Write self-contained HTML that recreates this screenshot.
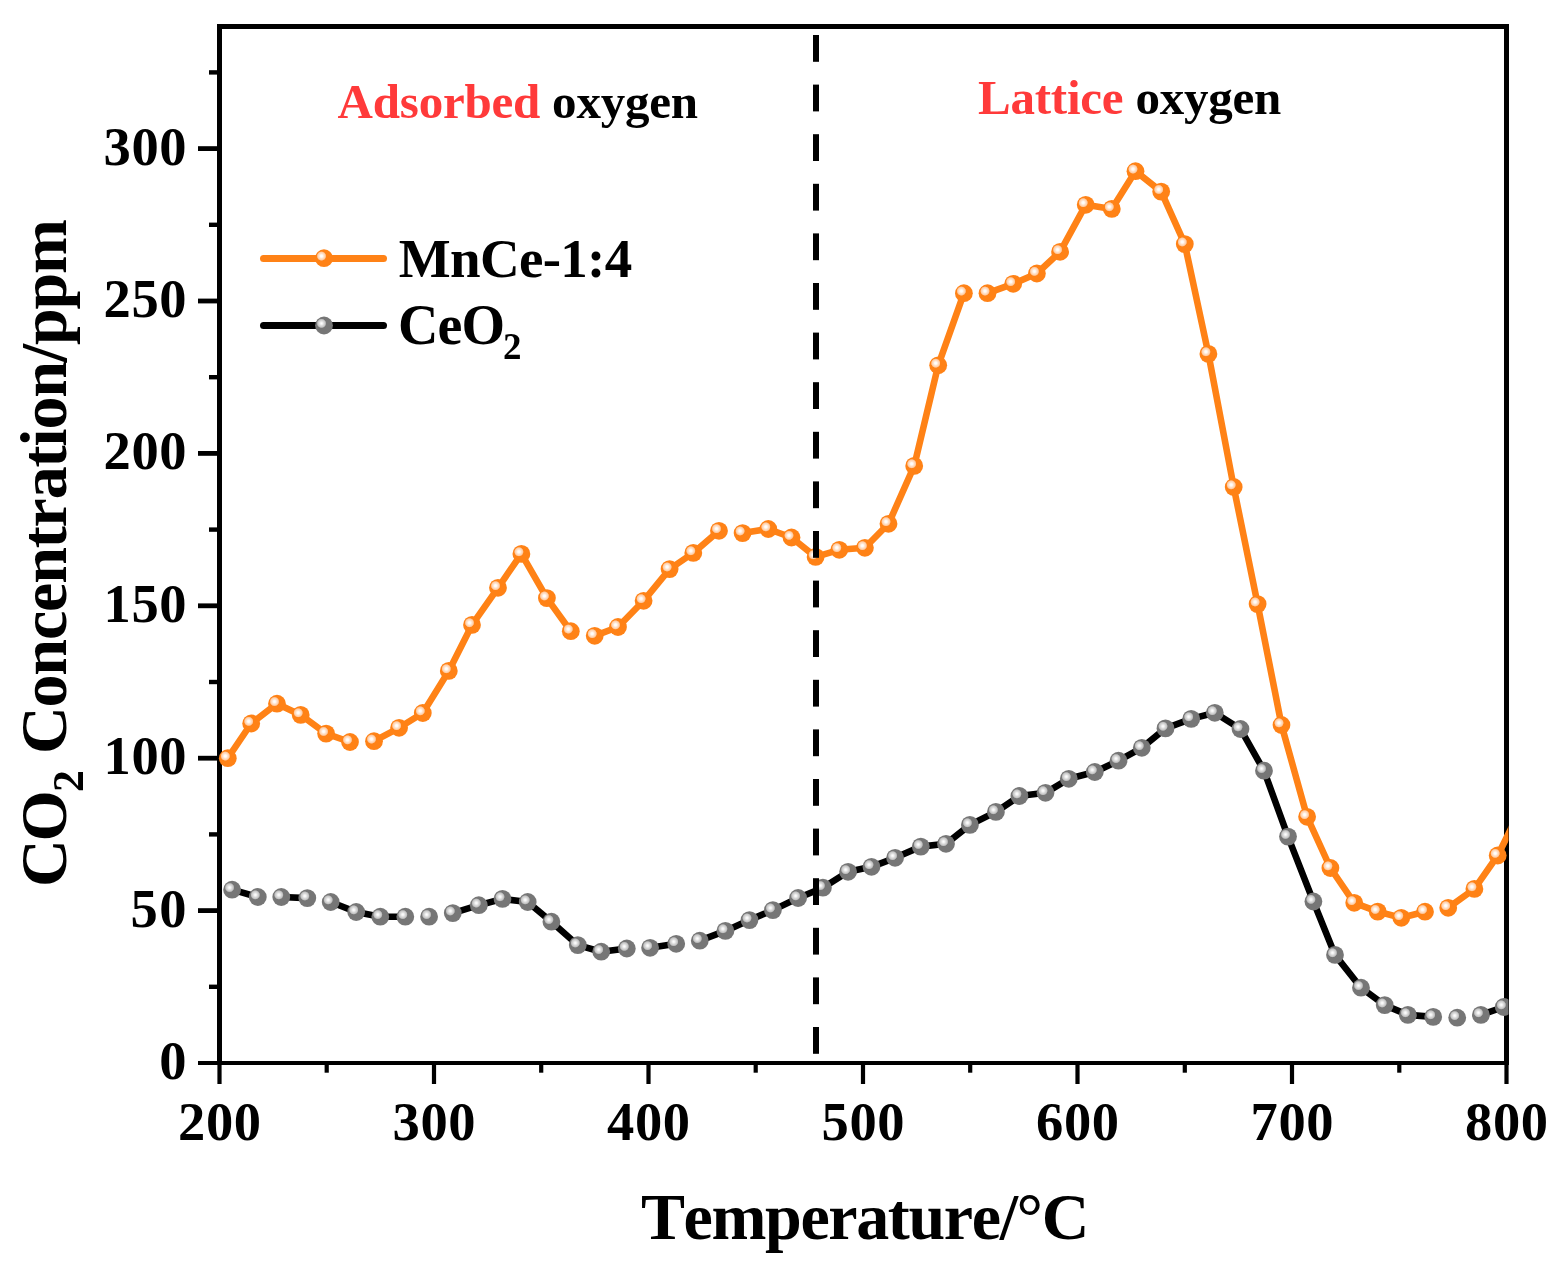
<!DOCTYPE html>
<html><head><meta charset="utf-8"><style>
html,body{margin:0;padding:0;background:#fff;}
svg{display:block;}
</style></head><body>
<svg width="1566" height="1268" viewBox="0 0 1566 1268" style="font-kerning:none">
<rect width="1566" height="1268" fill="#fff"/>
<defs>
<radialGradient id="go" cx="0.36" cy="0.38" r="0.27" gradientUnits="objectBoundingBox">
<stop offset="0" stop-color="#ffffff"/><stop offset="0.25" stop-color="#fffaf5"/><stop offset="0.5" stop-color="#ffe2cc"/><stop offset="0.78" stop-color="#ffcfa8"/><stop offset="0.92" stop-color="#ffa860"/><stop offset="1" stop-color="#ff8216"/></radialGradient>
<radialGradient id="gg" cx="0.36" cy="0.38" r="0.27" gradientUnits="objectBoundingBox">
<stop offset="0" stop-color="#ffffff"/><stop offset="0.25" stop-color="#f2f2f2"/><stop offset="0.5" stop-color="#dadada"/><stop offset="0.78" stop-color="#c4c4c4"/><stop offset="0.92" stop-color="#9c9c9c"/><stop offset="1" stop-color="#767676"/></radialGradient>
<clipPath id="cp"><rect x="217" y="24" width="1291.5" height="1041"/></clipPath>
</defs>
<g fill="#000">
<rect x="217" y="24" width="5" height="1041"/>
<rect x="1504" y="24" width="5" height="1041"/>
<rect x="217" y="24" width="1292" height="5"/>
<rect x="198" y="1061" width="1311" height="4"/>
<rect x="209" y="984.6" width="9" height="4.4"/>
<rect x="198" y="908.2" width="20" height="4.8"/>
<rect x="209" y="832.2" width="9" height="4.4"/>
<rect x="198" y="755.8" width="20" height="4.8"/>
<rect x="209" y="679.8" width="9" height="4.4"/>
<rect x="198" y="603.4" width="20" height="4.8"/>
<rect x="209" y="527.4" width="9" height="4.4"/>
<rect x="198" y="451.0" width="20" height="4.8"/>
<rect x="209" y="375.0" width="9" height="4.4"/>
<rect x="198" y="298.6" width="20" height="4.8"/>
<rect x="209" y="222.6" width="9" height="4.4"/>
<rect x="198" y="146.2" width="20" height="4.8"/>
<rect x="209" y="70.2" width="9" height="4.4"/>
<rect x="217.4" y="1062" width="4.2" height="22"/>
<rect x="324.6" y="1062" width="4.2" height="10.7"/>
<rect x="431.9" y="1062" width="4.2" height="22"/>
<rect x="539.1" y="1062" width="4.2" height="10.7"/>
<rect x="646.4" y="1062" width="4.2" height="22"/>
<rect x="753.6" y="1062" width="4.2" height="10.7"/>
<rect x="860.9" y="1062" width="4.2" height="22"/>
<rect x="968.1" y="1062" width="4.2" height="10.7"/>
<rect x="1075.4" y="1062" width="4.2" height="22"/>
<rect x="1182.7" y="1062" width="4.2" height="10.7"/>
<rect x="1289.9" y="1062" width="4.2" height="22"/>
<rect x="1397.2" y="1062" width="4.2" height="10.7"/>
<rect x="1504.4" y="1062" width="4.2" height="22"/>
</g>
<g clip-path="url(#cp)">
<path d="M227.8 758.2 L251.2 723.5 L277.0 703.7 L300.7 714.9 L326.1 733.6 L350.0 742.0 M374.0 741.2 L399.1 727.8 L422.8 713.0 L448.8 670.9 L472.0 624.9 L498.0 587.8 L521.4 553.9 L546.9 598.1 L570.8 631.2 M594.7 635.8 L618.0 627.0 L643.6 600.8 L669.6 569.1 L693.3 552.9 L719.0 530.8 M742.6 533.1 L768.3 529.0 L791.5 537.5 L815.6 556.9 L839.3 549.8 L864.9 547.8 L888.5 523.8 L914.2 465.9 L938.2 365.3 L963.9 293.2 M987.5 293.2 L1013.2 283.8 L1036.9 273.5 L1060.1 251.8 L1085.7 204.8 L1111.8 208.9 L1135.5 171.2 L1161.2 191.6 L1184.8 244.1 L1208.4 353.9 L1233.7 487.0 L1257.6 604.1 L1281.5 725.0 L1307.1 816.8 L1330.4 868.0 L1354.2 902.8 L1377.7 911.6 L1401.3 917.8 L1425.0 911.7 M1448.2 907.8 L1474.4 888.9 L1497.7 855.5 L1521.0 808.5" fill="none" stroke="#ff8216" stroke-width="6.6" stroke-linejoin="round" stroke-linecap="butt"/>
<circle cx="227.8" cy="758.2" r="8.9" fill="url(#go)"/>
<circle cx="251.2" cy="723.5" r="8.9" fill="url(#go)"/>
<circle cx="277.0" cy="703.7" r="8.9" fill="url(#go)"/>
<circle cx="300.7" cy="714.9" r="8.9" fill="url(#go)"/>
<circle cx="326.1" cy="733.6" r="8.9" fill="url(#go)"/>
<circle cx="350.0" cy="742.0" r="8.9" fill="url(#go)"/>
<circle cx="374.0" cy="741.2" r="8.9" fill="url(#go)"/>
<circle cx="399.1" cy="727.8" r="8.9" fill="url(#go)"/>
<circle cx="422.8" cy="713.0" r="8.9" fill="url(#go)"/>
<circle cx="448.8" cy="670.9" r="8.9" fill="url(#go)"/>
<circle cx="472.0" cy="624.9" r="8.9" fill="url(#go)"/>
<circle cx="498.0" cy="587.8" r="8.9" fill="url(#go)"/>
<circle cx="521.4" cy="553.9" r="8.9" fill="url(#go)"/>
<circle cx="546.9" cy="598.1" r="8.9" fill="url(#go)"/>
<circle cx="570.8" cy="631.2" r="8.9" fill="url(#go)"/>
<circle cx="594.7" cy="635.8" r="8.9" fill="url(#go)"/>
<circle cx="618.0" cy="627.0" r="8.9" fill="url(#go)"/>
<circle cx="643.6" cy="600.8" r="8.9" fill="url(#go)"/>
<circle cx="669.6" cy="569.1" r="8.9" fill="url(#go)"/>
<circle cx="693.3" cy="552.9" r="8.9" fill="url(#go)"/>
<circle cx="719.0" cy="530.8" r="8.9" fill="url(#go)"/>
<circle cx="742.6" cy="533.1" r="8.9" fill="url(#go)"/>
<circle cx="768.3" cy="529.0" r="8.9" fill="url(#go)"/>
<circle cx="791.5" cy="537.5" r="8.9" fill="url(#go)"/>
<circle cx="815.6" cy="556.9" r="8.9" fill="url(#go)"/>
<circle cx="839.3" cy="549.8" r="8.9" fill="url(#go)"/>
<circle cx="864.9" cy="547.8" r="8.9" fill="url(#go)"/>
<circle cx="888.5" cy="523.8" r="8.9" fill="url(#go)"/>
<circle cx="914.2" cy="465.9" r="8.9" fill="url(#go)"/>
<circle cx="938.2" cy="365.3" r="8.9" fill="url(#go)"/>
<circle cx="963.9" cy="293.2" r="8.9" fill="url(#go)"/>
<circle cx="987.5" cy="293.2" r="8.9" fill="url(#go)"/>
<circle cx="1013.2" cy="283.8" r="8.9" fill="url(#go)"/>
<circle cx="1036.9" cy="273.5" r="8.9" fill="url(#go)"/>
<circle cx="1060.1" cy="251.8" r="8.9" fill="url(#go)"/>
<circle cx="1085.7" cy="204.8" r="8.9" fill="url(#go)"/>
<circle cx="1111.8" cy="208.9" r="8.9" fill="url(#go)"/>
<circle cx="1135.5" cy="171.2" r="8.9" fill="url(#go)"/>
<circle cx="1161.2" cy="191.6" r="8.9" fill="url(#go)"/>
<circle cx="1184.8" cy="244.1" r="8.9" fill="url(#go)"/>
<circle cx="1208.4" cy="353.9" r="8.9" fill="url(#go)"/>
<circle cx="1233.7" cy="487.0" r="8.9" fill="url(#go)"/>
<circle cx="1257.6" cy="604.1" r="8.9" fill="url(#go)"/>
<circle cx="1281.5" cy="725.0" r="8.9" fill="url(#go)"/>
<circle cx="1307.1" cy="816.8" r="8.9" fill="url(#go)"/>
<circle cx="1330.4" cy="868.0" r="8.9" fill="url(#go)"/>
<circle cx="1354.2" cy="902.8" r="8.9" fill="url(#go)"/>
<circle cx="1377.7" cy="911.6" r="8.9" fill="url(#go)"/>
<circle cx="1401.3" cy="917.8" r="8.9" fill="url(#go)"/>
<circle cx="1425.0" cy="911.7" r="8.9" fill="url(#go)"/>
<circle cx="1448.2" cy="907.8" r="8.9" fill="url(#go)"/>
<circle cx="1474.4" cy="888.9" r="8.9" fill="url(#go)"/>
<circle cx="1497.7" cy="855.5" r="8.9" fill="url(#go)"/>
<path d="M232.1 889.7 L257.8 897.0 M281.3 897.0 L307.3 898.1 M330.7 902.0 L356.2 912.0 L380.3 916.7 L405.3 916.7 M429.1 916.7 M452.8 913.1 L478.8 905.2 L502.5 898.9 L527.7 902.0 L551.4 921.7 L577.8 945.1 L601.2 951.7 L626.8 948.5 M650.1 947.8 L676.2 943.8 M699.8 940.7 L725.4 930.9 L749.5 920.1 L772.9 910.1 L798.1 898.0 L822.9 887.7 L848.1 871.8 L871.5 866.8 L895.1 857.8 L920.8 846.6 L946.0 843.8 L969.9 824.9 L995.9 811.9 L1019.4 796.0 L1045.5 792.8 L1068.8 778.8 L1094.8 772.0 L1118.5 760.7 L1141.8 747.8 L1165.5 728.4 L1191.2 718.9 L1214.8 712.8 L1240.5 729.0 L1264.0 770.7 L1288.0 836.6 L1313.4 901.5 L1335.0 954.9 L1361.0 987.7 L1384.7 1005.1 L1407.9 1014.9 L1433.2 1016.9 M1457.2 1017.7 M1480.9 1014.9 L1503.8 1007.0 L1527.0 999.0" fill="none" stroke="#000" stroke-width="6.6" stroke-linejoin="round" stroke-linecap="butt"/>
<circle cx="232.1" cy="889.7" r="8.9" fill="url(#gg)"/>
<circle cx="257.8" cy="897.0" r="8.9" fill="url(#gg)"/>
<circle cx="281.3" cy="897.0" r="8.9" fill="url(#gg)"/>
<circle cx="307.3" cy="898.1" r="8.9" fill="url(#gg)"/>
<circle cx="330.7" cy="902.0" r="8.9" fill="url(#gg)"/>
<circle cx="356.2" cy="912.0" r="8.9" fill="url(#gg)"/>
<circle cx="380.3" cy="916.7" r="8.9" fill="url(#gg)"/>
<circle cx="405.3" cy="916.7" r="8.9" fill="url(#gg)"/>
<circle cx="429.1" cy="916.7" r="8.9" fill="url(#gg)"/>
<circle cx="452.8" cy="913.1" r="8.9" fill="url(#gg)"/>
<circle cx="478.8" cy="905.2" r="8.9" fill="url(#gg)"/>
<circle cx="502.5" cy="898.9" r="8.9" fill="url(#gg)"/>
<circle cx="527.7" cy="902.0" r="8.9" fill="url(#gg)"/>
<circle cx="551.4" cy="921.7" r="8.9" fill="url(#gg)"/>
<circle cx="577.8" cy="945.1" r="8.9" fill="url(#gg)"/>
<circle cx="601.2" cy="951.7" r="8.9" fill="url(#gg)"/>
<circle cx="626.8" cy="948.5" r="8.9" fill="url(#gg)"/>
<circle cx="650.1" cy="947.8" r="8.9" fill="url(#gg)"/>
<circle cx="676.2" cy="943.8" r="8.9" fill="url(#gg)"/>
<circle cx="699.8" cy="940.7" r="8.9" fill="url(#gg)"/>
<circle cx="725.4" cy="930.9" r="8.9" fill="url(#gg)"/>
<circle cx="749.5" cy="920.1" r="8.9" fill="url(#gg)"/>
<circle cx="772.9" cy="910.1" r="8.9" fill="url(#gg)"/>
<circle cx="798.1" cy="898.0" r="8.9" fill="url(#gg)"/>
<circle cx="822.9" cy="887.7" r="8.9" fill="url(#gg)"/>
<circle cx="848.1" cy="871.8" r="8.9" fill="url(#gg)"/>
<circle cx="871.5" cy="866.8" r="8.9" fill="url(#gg)"/>
<circle cx="895.1" cy="857.8" r="8.9" fill="url(#gg)"/>
<circle cx="920.8" cy="846.6" r="8.9" fill="url(#gg)"/>
<circle cx="946.0" cy="843.8" r="8.9" fill="url(#gg)"/>
<circle cx="969.9" cy="824.9" r="8.9" fill="url(#gg)"/>
<circle cx="995.9" cy="811.9" r="8.9" fill="url(#gg)"/>
<circle cx="1019.4" cy="796.0" r="8.9" fill="url(#gg)"/>
<circle cx="1045.5" cy="792.8" r="8.9" fill="url(#gg)"/>
<circle cx="1068.8" cy="778.8" r="8.9" fill="url(#gg)"/>
<circle cx="1094.8" cy="772.0" r="8.9" fill="url(#gg)"/>
<circle cx="1118.5" cy="760.7" r="8.9" fill="url(#gg)"/>
<circle cx="1141.8" cy="747.8" r="8.9" fill="url(#gg)"/>
<circle cx="1165.5" cy="728.4" r="8.9" fill="url(#gg)"/>
<circle cx="1191.2" cy="718.9" r="8.9" fill="url(#gg)"/>
<circle cx="1214.8" cy="712.8" r="8.9" fill="url(#gg)"/>
<circle cx="1240.5" cy="729.0" r="8.9" fill="url(#gg)"/>
<circle cx="1264.0" cy="770.7" r="8.9" fill="url(#gg)"/>
<circle cx="1288.0" cy="836.6" r="8.9" fill="url(#gg)"/>
<circle cx="1313.4" cy="901.5" r="8.9" fill="url(#gg)"/>
<circle cx="1335.0" cy="954.9" r="8.9" fill="url(#gg)"/>
<circle cx="1361.0" cy="987.7" r="8.9" fill="url(#gg)"/>
<circle cx="1384.7" cy="1005.1" r="8.9" fill="url(#gg)"/>
<circle cx="1407.9" cy="1014.9" r="8.9" fill="url(#gg)"/>
<circle cx="1433.2" cy="1016.9" r="8.9" fill="url(#gg)"/>
<circle cx="1457.2" cy="1017.7" r="8.9" fill="url(#gg)"/>
<circle cx="1480.9" cy="1014.9" r="8.9" fill="url(#gg)"/>
<circle cx="1503.8" cy="1007.0" r="8.9" fill="url(#gg)"/>
</g>
<g fill="#000">
<rect x="813" y="35.0" width="6" height="26.8"/>
<rect x="813" y="84.6" width="6" height="26.8"/>
<rect x="813" y="134.2" width="6" height="26.8"/>
<rect x="813" y="183.8" width="6" height="26.8"/>
<rect x="813" y="233.4" width="6" height="26.8"/>
<rect x="813" y="283.0" width="6" height="26.8"/>
<rect x="813" y="332.6" width="6" height="26.8"/>
<rect x="813" y="382.2" width="6" height="26.8"/>
<rect x="813" y="431.8" width="6" height="26.8"/>
<rect x="813" y="481.4" width="6" height="26.8"/>
<rect x="813" y="531.0" width="6" height="26.8"/>
<rect x="813" y="580.6" width="6" height="26.8"/>
<rect x="813" y="630.2" width="6" height="26.8"/>
<rect x="813" y="679.8" width="6" height="26.8"/>
<rect x="813" y="729.4" width="6" height="26.8"/>
<rect x="813" y="779.0" width="6" height="26.8"/>
<rect x="813" y="828.6" width="6" height="26.8"/>
<rect x="813" y="878.2" width="6" height="26.8"/>
<rect x="813" y="927.8" width="6" height="26.8"/>
<rect x="813" y="977.4" width="6" height="26.8"/>
<rect x="813" y="1027.0" width="6" height="26.8"/>
</g>
<path d="M263.5 258.4 L383.5 258.4" stroke="#ff8216" stroke-width="7" stroke-linecap="round"/>
<circle cx="324" cy="258.2" r="8.9" fill="url(#go)"/>
<path d="M263.5 325.5 L383.5 325.5" stroke="#000" stroke-width="7" stroke-linecap="round"/>
<circle cx="324" cy="325.5" r="8.9" fill="url(#gg)"/>
<text x="186.5" y="1079.0" text-anchor="end" font-size="54.5" font-family="'Liberation Serif', serif" font-weight="bold">0</text>
<text x="186.5" y="926.6" text-anchor="end" font-size="54.5" textLength="56.0" lengthAdjust="spacing" font-family="'Liberation Serif', serif" font-weight="bold">50</text>
<text x="186.5" y="774.2" text-anchor="end" font-size="54.5" textLength="83.0" lengthAdjust="spacing" font-family="'Liberation Serif', serif" font-weight="bold">100</text>
<text x="186.5" y="621.8" text-anchor="end" font-size="54.5" textLength="83.0" lengthAdjust="spacing" font-family="'Liberation Serif', serif" font-weight="bold">150</text>
<text x="186.5" y="469.4" text-anchor="end" font-size="54.5" textLength="83.0" lengthAdjust="spacing" font-family="'Liberation Serif', serif" font-weight="bold">200</text>
<text x="186.5" y="317.0" text-anchor="end" font-size="54.5" textLength="83.0" lengthAdjust="spacing" font-family="'Liberation Serif', serif" font-weight="bold">250</text>
<text x="186.5" y="164.6" text-anchor="end" font-size="54.5" textLength="83.0" lengthAdjust="spacing" font-family="'Liberation Serif', serif" font-weight="bold">300</text>
<text x="219.5" y="1139.8" text-anchor="middle" font-size="54.5" textLength="83.0" lengthAdjust="spacing" font-family="'Liberation Serif', serif" font-weight="bold">200</text>
<text x="434.0" y="1139.8" text-anchor="middle" font-size="54.5" textLength="83.0" lengthAdjust="spacing" font-family="'Liberation Serif', serif" font-weight="bold">300</text>
<text x="648.5" y="1139.8" text-anchor="middle" font-size="54.5" textLength="83.0" lengthAdjust="spacing" font-family="'Liberation Serif', serif" font-weight="bold">400</text>
<text x="863.0" y="1139.8" text-anchor="middle" font-size="54.5" textLength="83.0" lengthAdjust="spacing" font-family="'Liberation Serif', serif" font-weight="bold">500</text>
<text x="1077.5" y="1139.8" text-anchor="middle" font-size="54.5" textLength="83.0" lengthAdjust="spacing" font-family="'Liberation Serif', serif" font-weight="bold">600</text>
<text x="1292.0" y="1139.8" text-anchor="middle" font-size="54.5" textLength="83.0" lengthAdjust="spacing" font-family="'Liberation Serif', serif" font-weight="bold">700</text>
<text x="1506.5" y="1139.8" text-anchor="middle" font-size="54.5" textLength="83.0" lengthAdjust="spacing" font-family="'Liberation Serif', serif" font-weight="bold">800</text>
<text x="337.6" y="117.9" font-size="49.0" textLength="360.4" lengthAdjust="spacing" font-family="'Liberation Serif', serif" font-weight="bold"><tspan fill="#ff3a3a">Adsorbed</tspan> oxygen</text>
<text x="978.0" y="113.8" font-size="49.0" textLength="303.3" lengthAdjust="spacing" font-family="'Liberation Serif', serif" font-weight="bold"><tspan fill="#ff3a3a">Lattice</tspan> oxygen</text>
<text x="398.8" y="277.0" font-size="55.0" textLength="233.4" lengthAdjust="spacing" font-family="'Liberation Serif', serif" font-weight="bold">MnCe-1:4</text>
<text x="398.0" y="343.6" font-size="56.0" textLength="107.1" lengthAdjust="spacing" font-family="'Liberation Serif', serif" font-weight="bold">CeO</text>
<text x="503.0" y="358.5" font-size="37.0" font-family="'Liberation Serif', serif" font-weight="bold">2</text>
<text x="640.9" y="1239.0" font-size="66.0" textLength="448.4" lengthAdjust="spacing" font-family="'Liberation Serif', serif" font-weight="bold">Temperature/°C</text>
<g transform="rotate(-90)">
<text x="-887.0" y="66.3" font-size="66.0" textLength="96.8" lengthAdjust="spacing" font-family="'Liberation Serif', serif" font-weight="bold">CO</text>
<text x="-792.0" y="83.4" font-size="44.0" font-family="'Liberation Serif', serif" font-weight="bold">2</text>
<text x="-754.0" y="66.3" font-size="66.0" textLength="535.1" lengthAdjust="spacing" font-family="'Liberation Serif', serif" font-weight="bold">Concentration/ppm</text>
</g>
</svg>
</body></html>
